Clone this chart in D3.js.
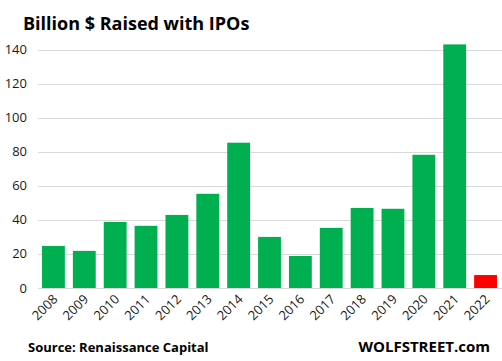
<!DOCTYPE html>
<html>
<head>
<meta charset="utf-8">
<script src="https://cdn.jsdelivr.net/npm/d3@7"></script>
<style>
  body { margin: 0; background: #fff; }
  svg { display: block; font-family: "Open Sans", "DejaVu Sans", sans-serif; }
</style>
</head>
<body>
<div id="chart"></div>
<script>
// IPO money raised per year, billions of dollars
var years = ["2008","2009","2010","2011","2012","2013","2014","2015","2016","2017","2018","2019","2020","2021","2022"];
var raised = [24.7, 21.8, 38.8, 36.5, 42.9, 55.3, 85.3, 30, 18.8, 35.3, 47, 46.5, 78.2, 143, 7.6];
var yTicks = [0, 20, 40, 60, 80, 100, 120, 140];

var width = 502, height = 361;
var svg = d3.select("#chart").append("svg")
    .attr("width", width)
    .attr("height", height);

var x = d3.scaleBand()
    .domain(years)
    .range([38, 501])
    .paddingInner(0.26)
    .paddingOuter(0.13);

var y = d3.scaleLinear()
    .domain([0, 140])
    .range([288, 49.5]);

// gridlines
svg.append("g")
    .selectAll("line")
    .data(yTicks)
    .join("line")
    .attr("x1", 38)
    .attr("x2", 502)
    .attr("y1", d => Math.round(y(d)) + 0.5)
    .attr("y2", d => Math.round(y(d)) + 0.5)
    .attr("stroke", "#d9d9d9")
    .attr("stroke-width", 1);

// y labels
svg.append("g")
    .selectAll("text")
    .data(yTicks)
    .join("text")
    .attr("x", 27)
    .attr("y", d => y(d) + 4.5)
    .attr("text-anchor", "end")
    .attr("font-size", 13)
    .attr("fill", "#1a1a1a")
    .text(d => d);

// bars, last year in red
svg.append("g")
    .selectAll("rect")
    .data(raised)
    .join("rect")
    .attr("x", (d, i) => x(years[i]))
    .attr("width", x.bandwidth())
    .attr("y", d => y(d))
    .attr("height", d => y(0) - y(d))
    .attr("fill", (d, i) => years[i] === "2022" ? "#ff0000" : "#00b050");

// x labels rotated
svg.append("g")
    .selectAll("text")
    .data(years)
    .join("text")
    .attr("text-anchor", "end")
    .attr("font-size", 13)
    .attr("fill", "#1a1a1a")
    .attr("transform", d => "translate(" + (x(d) + x.bandwidth() / 2 + 5) + ",300) rotate(-45)")
    .text(d => d);

// title
svg.append("text")
    .attr("x", 23)
    .attr("y", 30)
    .attr("font-size", 18)
    .attr("font-weight", "bold")
    .attr("fill", "#000")
    .text("Billion $ Raised with IPOs");

// footer
svg.append("text")
    .attr("x", 28)
    .attr("y", 352)
    .attr("font-size", 13)
    .attr("font-weight", "bold")
    .attr("fill", "#000")
    .text("Source: Renaissance Capital");

svg.append("text")
    .attr("x", 490)
    .attr("y", 352)
    .attr("text-anchor", "end")
    .attr("font-size", 15)
    .attr("font-weight", "bold")
    .attr("fill", "#000")
    .text("WOLFSTREET.com");
</script>
</body>
</html>
